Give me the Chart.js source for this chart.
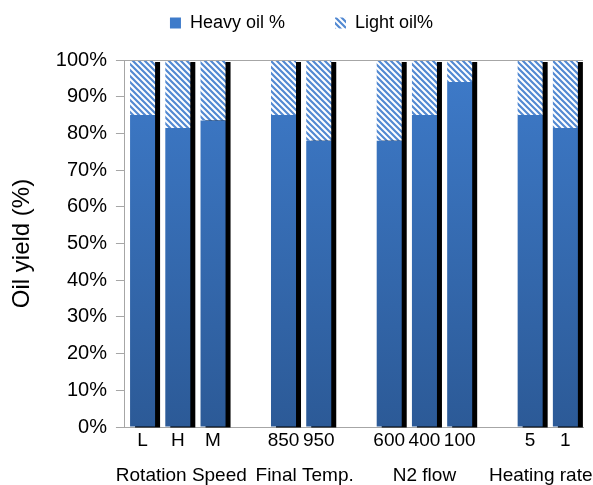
<!DOCTYPE html>
<html>
<head>
<meta charset="UTF-8">
<script src="https://cdn.jsdelivr.net/npm/chart.js@4.4.0/dist/chart.umd.min.js"></script>
<style>
  html, body { margin: 0; padding: 0; background: #fff; }
  #wrap { width: 593px; height: 485px; }
</style>
</head>
<body>
<div id="wrap"><canvas id="myChart"></canvas></div>
<script>
// data
const categories = ['L', 'H', 'M', '', '850', '950', '', '600', '400', '100', '', '5', '1'];
const heavyOil = [85, 81.5, 83.5, null, 85, 78, null, 78, 85, 94, null, 85, 81.5];
const lightOil = [15, 18.5, 16.5, null, 15, 22, null, 22, 15, 6, null, 15, 18.5];
const groupNames = ['Rotation Speed', 'Final Temp.', 'N2 flow', 'Heating rate'];
const groupAt = [1.1, 4.6, 8, 11.3];
const yTicks = [0, 10, 20, 30, 40, 50, 60, 70, 80, 90, 100];

const FONT = "'Liberation Sans', Arial, sans-serif";

// hatched fill for light oil
function hatch() {
    const c = document.createElement('canvas');
    c.width = 6; c.height = 6;
    const x = c.getContext('2d');
    x.fillStyle = '#ffffff';
    x.fillRect(0, 0, 6, 6);
    x.strokeStyle = '#5289d2';
    x.lineWidth = 2.2;
    x.beginPath();
    x.moveTo(-3, -3); x.lineTo(9, 9);
    x.moveTo(-3, 3); x.lineTo(3, 9);
    x.moveTo(3, -3); x.lineTo(9, 3);
    x.stroke();
    return x.createPattern(c, 'repeat');
}

function heavyFill(ctx) {
    const area = ctx.chart.chartArea;
    if (!area) return '#3570ba';
    const g = ctx.chart.ctx.createLinearGradient(0, area.bottom, 0, area.top);
    g.addColorStop(0, '#2c5a97');
    g.addColorStop(1, '#3e7bca');
    return g;
}

// black drop shadow to the right of each bar
const barShadow = {
    id: 'barShadow',
    beforeDatasetsDraw(chart) {
        const ctx = chart.ctx;
        const m0 = chart.getDatasetMeta(0), m1 = chart.getDatasetMeta(1);
        ctx.save();
        ctx.fillStyle = '#000';
        m0.data.forEach((bar, i) => {
            if (heavyOil[i] == null) return;
            const p = bar.getProps(['x', 'width', 'base'], true);
            const top = m1.data[i].y;
            ctx.fillRect(p.x - p.width / 2 + 5, top + 2, p.width, p.base - top - 1);
        });
        ctx.restore();
    }
};

// second row of x labels (group names), placed with the x scale
const groupLabels = {
    id: 'groupLabels',
    afterDraw(chart) {
        const ctx = chart.ctx, xs = chart.scales.x;
        const step = xs.getPixelForValue(1) - xs.getPixelForValue(0);
        ctx.save();
        ctx.font = '19px ' + FONT;
        ctx.fillStyle = '#000';
        ctx.textAlign = 'center';
        ctx.textBaseline = 'middle';
        groupNames.forEach((name, i) => {
            const base = Math.floor(groupAt[i]);
            const px = xs.getPixelForValue(base) + (groupAt[i] - base) * step;
            ctx.fillText(name, px, chart.chartArea.bottom + 49);
        });
        ctx.restore();
    }
};

// more room under the legend, and nudge it right a little
const legendRoom = {
    id: 'legendRoom',
    beforeInit(chart) {
        const fit = chart.legend.fit;
        chart.legend.fit = function () {
            fit.bind(chart.legend)();
            this.height += 18;
        };
    },
    afterLayout(chart) {
        chart.legend.left += 7;
        chart.legend.right += 7;
    }
};

new Chart(document.getElementById('myChart'), {
    type: 'bar',
    data: {
        labels: categories,
        datasets: [{
            label: 'Heavy oil %',
            data: heavyOil,
            backgroundColor: heavyFill,
            barPercentage: 0.71,
            categoryPercentage: 1
        }, {
            label: 'Light oil%',
            data: lightOil,
            backgroundColor: hatch(),
            barPercentage: 0.71,
            categoryPercentage: 1
        }]
    },
    plugins: [barShadow, groupLabels, legendRoom],
    options: {
        responsive: true,
        maintainAspectRatio: false,
        animation: false,
        layout: { padding: { left: 6, right: 10, top: 4, bottom: 31 } },
        plugins: {
            legend: {
                position: 'top',
                labels: {
                    font: { family: FONT, size: 18 },
                    color: '#000',
                    boxWidth: 11,
                    boxHeight: 11,
                    padding: 10,
                    generateLabels(chart) {
                        const items = Chart.defaults.plugins.legend.labels.generateLabels(chart);
                        items[0].text = items[0].text + '        ';
                        items.forEach(it => { it.lineWidth = 0; });
                        return items;
                    }
                }
            },
            tooltip: { enabled: false }
        },
        scales: {
            x: {
                stacked: true,
                grid: { display: false, drawTicks: false },
                border: { color: '#a6a6a6', width: 1 },
                ticks: {
                    font: { family: FONT, size: 19, lineHeight: 1 },
                    color: '#000',
                    padding: 4,
                    maxRotation: 0,
                    autoSkip: false
                }
            },
            y: {
                stacked: true,
                min: 0,
                max: 100,
                afterBuildTicks(scale) {
                    scale.ticks = yTicks.map(v => ({ value: v }));
                },
                grid: {
                    color: c => (c.tick && c.tick.value === 100) ? '#a6a6a6' : 'transparent',
                    tickColor: '#a6a6a6',
                    tickLength: 9,
                    z: 1
                },
                border: { color: '#a6a6a6', width: 1, z: 2 },
                ticks: {
                    font: { family: FONT, size: 20 },
                    color: '#000',
                    padding: 9,
                    callback: v => v + '%'
                },
                title: {
                    display: true,
                    text: 'Oil yield (%)',
                    font: { family: FONT, size: 24 },
                    color: '#000',
                    padding: { top: 2, bottom: 10 }
                }
            }
        }
    }
});
</script>
</body>
</html>
